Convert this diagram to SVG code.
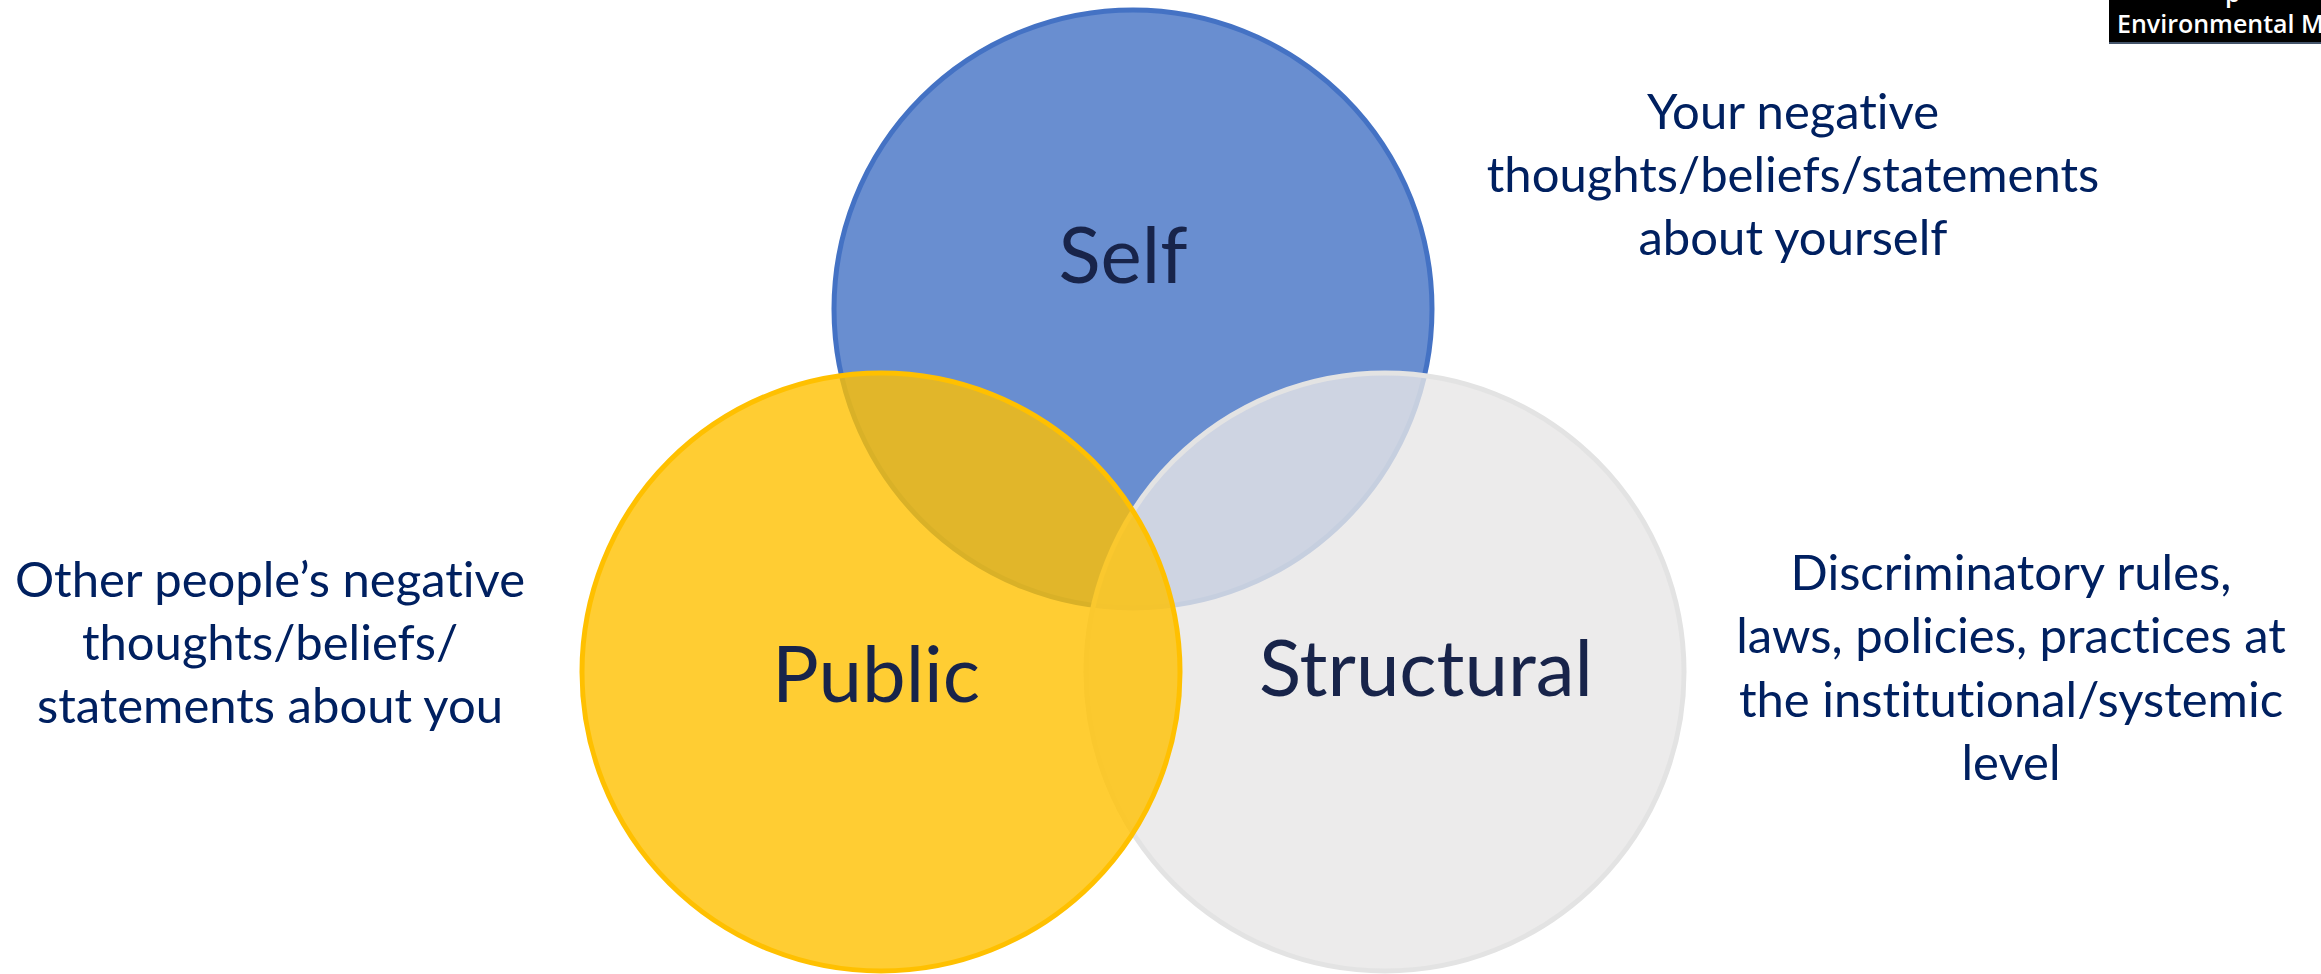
<svg xmlns="http://www.w3.org/2000/svg" width="2321" height="974" viewBox="0 0 2321 974">
<style>
text{font-variant-ligatures:none;font-feature-settings:"liga" 0,"dlig" 0}
.lbl{font-family:Lato,"Noto Sans","Liberation Sans",sans-serif;fill:#18244A;font-size:78px;text-anchor:middle}
.desc{font-family:Lato,"Noto Sans","Liberation Sans",sans-serif;fill:#002060;font-size:49px;text-anchor:middle}
.tag{font-family:"Open Sans","Noto Sans","Liberation Sans",sans-serif;fill:#FFFFFF;font-size:25px;font-weight:600}
</style>
<rect x="0" y="0" width="2321" height="974" fill="#FFFFFF"/>
<g id="self">
<circle cx="1133" cy="309" r="299" fill="#4472C4" fill-opacity="0.8" stroke="#4472C4" stroke-width="5"/>
</g>
<g id="structural">
<circle cx="1385" cy="672" r="299" fill="#E7E6E6" fill-opacity="0.8" stroke="#E3E3E3" stroke-width="5"/>
</g>
<g id="public">
<circle cx="881" cy="672" r="299" fill="#FFC000" fill-opacity="0.8" stroke="#FFC000" stroke-width="5"/>
</g>
<g id="connectors"></g>
<g id="labels">
<text class="lbl" x="1123" y="283">Self</text>
<text class="lbl" x="876" y="702">Public</text>
<text class="lbl" x="1426" y="696">Structural</text>
</g>
<g id="desc-self">
<text class="desc" x="1793" y="129">Your negative</text>
<text class="desc" x="1793" y="192">thoughts/beliefs/statements</text>
<text class="desc" x="1793" y="255">about yourself</text>
</g>
<g id="desc-public">
<text class="desc" x="270" y="597">Other people’s negative</text>
<text class="desc" x="270" y="660">thoughts/beliefs/</text>
<text class="desc" x="270" y="723">statements about you</text>
</g>
<g id="desc-structural">
<text class="desc" x="2011" y="590">Discriminatory rules,</text>
<text class="desc" x="2011" y="653">laws, policies, practices at</text>
<text class="desc" x="2011" y="717">the institutional/systemic</text>
<text class="desc" x="2011" y="780">level</text>
</g>
<g id="tag">
<rect x="2109" y="0" width="212" height="43" fill="#000000"/>
<line x1="2109" y1="43" x2="2321" y2="43" stroke="#44546A" stroke-width="2"/>
<text class="tag" x="2225" y="2">p</text>
<text class="tag" x="2117" y="33">Environmental M</text>
</g>
</svg>
